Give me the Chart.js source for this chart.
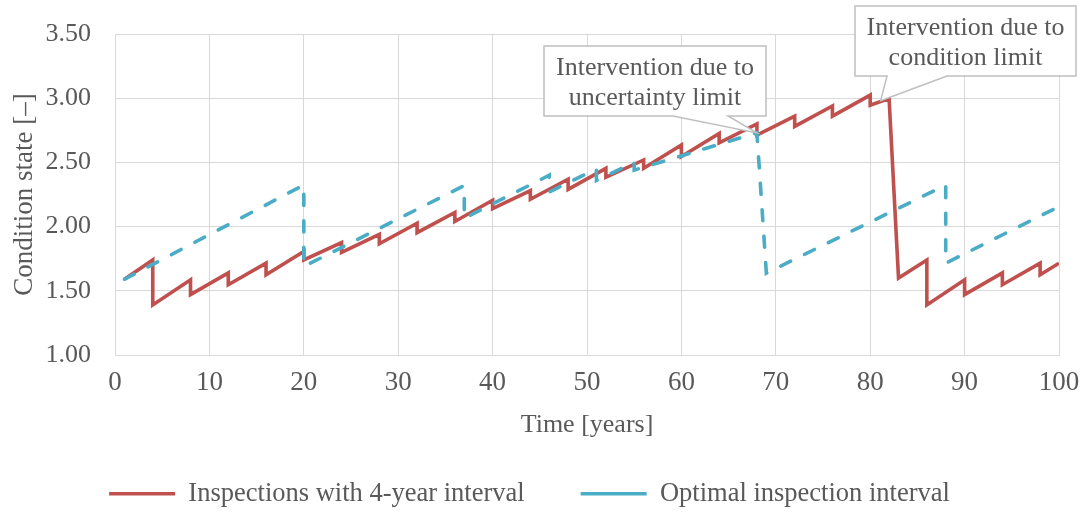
<!DOCTYPE html>
<html>
<head>
<meta charset="utf-8">
<script src="https://cdn.jsdelivr.net/npm/chart.js@4.4.0/dist/chart.umd.min.js"></script>
<style>
html,body{margin:0;padding:0;background:#ffffff;}
#wrap{width:1081px;height:514px;position:relative;}
</style>
</head>
<body>
<div id="wrap"><canvas id="c" width="1081" height="514"></canvas></div>
<script>
// ---- data ----
const xTickValues = [0, 10, 20, 30, 40, 50, 60, 70, 80, 90, 100];
const yTickValues = [1.00, 1.50, 2.00, 2.50, 3.00, 3.50];

const seriesNames = ['Inspections with 4-year interval', 'Optimal inspection interval'];

const redYears = [1, 4, 4, 8, 8, 12, 12, 16, 16, 20, 20, 24, 24, 28, 28, 32, 32, 36, 36, 40, 40,
  44, 44, 48, 48, 52, 52, 56, 56, 60, 60, 64, 64, 68, 68, 72, 72, 76, 76, 80, 80, 82, 83,
  86, 86, 90, 90, 94, 94, 98, 98, 100];
const redValues = [1.59, 1.74, 1.39, 1.586, 1.47, 1.64, 1.547, 1.715, 1.624, 1.806, 1.741, 1.876, 1.80,
  1.94, 1.866, 2.026, 1.953, 2.11, 2.04, 2.205, 2.14, 2.28, 2.213, 2.369, 2.29, 2.454, 2.384,
  2.519, 2.454, 2.635, 2.545, 2.726, 2.653, 2.80, 2.713, 2.86, 2.78, 2.94, 2.86, 3.024, 2.946, 2.998, 1.60,
  1.74, 1.39, 1.586, 1.47, 1.64, 1.547, 1.715, 1.624, 1.715];

const blueYears = [1, 20, 20, 37, 37, 46, 46, 51, 51, 55, 55, 68, 69, 88, 88, 100];
const blueValues = [1.59, 2.324, 1.689, 2.32, 2.065, 2.40, 2.27, 2.45, 2.36, 2.50, 2.44, 2.73, 1.638, 2.324, 1.715, 2.156];

const calloutTexts = [
  ['Intervention due to', 'uncertainty limit'],
  ['Intervention due to', 'condition limit']
];
const calloutTipYears = [68, 81.1];
const calloutTipValues = [2.73, 2.98];

// ---- styles ----
const FONT = "'Liberation Serif', 'Times New Roman', serif";
const TXT = '#595959';
const GRID = '#d9d9d9';
const RED = '#C0504D';
const BLUE = '#4BACC6';

function toPoints(xs, ys) { return xs.map((x, i) => ({x: x, y: ys[i]})); }

const calloutBoxes = [
  {left: 544, top: 46, right: 766, bottom: 116, baseL: 673, baseR: 728},
  {left: 855, top: 6, right: 1076, bottom: 76, baseL: 887, baseR: 947}
];

const calloutPlugin = {
  id: 'callouts',
  afterDatasetsDraw(chart) {
    const ctx = chart.ctx;
    const xs = chart.scales.x, ys = chart.scales.y;
    calloutBoxes.forEach((b, i) => {
      const tx = xs.getPixelForValue(calloutTipYears[i]);
      const ty = ys.getPixelForValue(calloutTipValues[i]);
      ctx.save();
      ctx.beginPath();
      ctx.moveTo(b.left, b.top);
      ctx.lineTo(b.right, b.top);
      ctx.lineTo(b.right, b.bottom);
      ctx.lineTo(b.baseR, b.bottom);
      ctx.lineTo(tx, ty);
      ctx.lineTo(b.baseL, b.bottom);
      ctx.lineTo(b.left, b.bottom);
      ctx.closePath();
      ctx.fillStyle = '#ffffff';
      ctx.fill();
      ctx.lineWidth = 1.5;
      ctx.strokeStyle = '#bfbfbf';
      ctx.lineJoin = 'miter';
      ctx.stroke();
      ctx.fillStyle = TXT;
      ctx.font = "26px " + FONT;
      ctx.textAlign = 'center';
      ctx.textBaseline = 'middle';
      const cx = (b.left + b.right) / 2;
      const lines = calloutTexts[i];
      const h = b.bottom - b.top;
      ctx.fillText(lines[0], cx, b.top + h * 0.31);
      ctx.fillText(lines[1], cx, b.top + h * 0.74);
      ctx.restore();
    });
  }
};

new Chart(document.getElementById('c'), {
  type: 'line',
  data: {
    datasets: [
      {
        label: seriesNames[0],
        data: toPoints(redYears, redValues),
        borderColor: RED,
        backgroundColor: RED,
        borderWidth: 3.6,
        pointRadius: 0,
        tension: 0,
        fill: false,
        order: 1,
        borderJoinStyle: 'miter',
        borderCapStyle: 'butt'
      },
      {
        label: seriesNames[1],
        data: toPoints(blueYears, blueValues),
        borderColor: BLUE,
        backgroundColor: BLUE,
        borderWidth: 3.6,
        borderDash: [11, 15.5],
        borderCapStyle: 'round',
        pointRadius: 0,
        tension: 0,
        fill: false,
        order: 0
      }
    ]
  },
  options: {
    responsive: false,
    devicePixelRatio: 1,
    animation: false,
    layout: {padding: {top: 34, right: 22, bottom: -3, left: 0}},
    font: {family: FONT},
    plugins: {
      tooltip: {enabled: false},
      legend: {
        display: true,
        position: 'bottom',
        labels: {
          font: {family: FONT, size: 26.5},
          color: TXT,
          usePointStyle: true,
          pointStyle: 'line',
          pointStyleWidth: 66,
          padding: 56,
          sort: (a, b) => a.datasetIndex - b.datasetIndex
        }
      }
    },
    scales: {
      x: {
        type: 'linear',
        min: 0,
        max: 100,
        afterBuildTicks: (s) => { s.ticks = xTickValues.map(v => ({value: v})); },
        afterFit: (s) => { s.height = 69.5; s.paddingLeft = 0; s.paddingRight = 0; },
        grid: {color: GRID, lineWidth: 1, drawTicks: false},
        border: {color: GRID, width: 1},
        ticks: {
          font: {family: FONT, size: 27},
          color: TXT,
          padding: 12,
          maxRotation: 0,
          callback: (v) => String(v)
        },
        title: {
          display: true,
          text: 'Time [years]',
          font: {family: FONT, size: 26},
          color: TXT,
          padding: {top: 0, bottom: -16.1}
        }
      },
      y: {
        type: 'linear',
        min: 1,
        max: 3.5,
        afterBuildTicks: (s) => { s.ticks = yTickValues.map(v => ({value: v})); },
        afterFit: (s) => { s.width = 115; s.paddingTop = 0; s.paddingBottom = 0; },
        grid: {color: GRID, lineWidth: 1, drawTicks: false},
        border: {color: GRID, width: 1},
        ticks: {
          font: {family: FONT, size: 26},
          color: TXT,
          padding: 24,
          callback: (v) => Number(v).toFixed(2)
        },
        title: {
          display: true,
          text: 'Condition state [–]',
          font: {family: FONT, size: 27},
          color: TXT,
          padding: {top: 9, bottom: 0}
        }
      }
    }
  },
  plugins: [calloutPlugin]
});
</script>
</body>
</html>
